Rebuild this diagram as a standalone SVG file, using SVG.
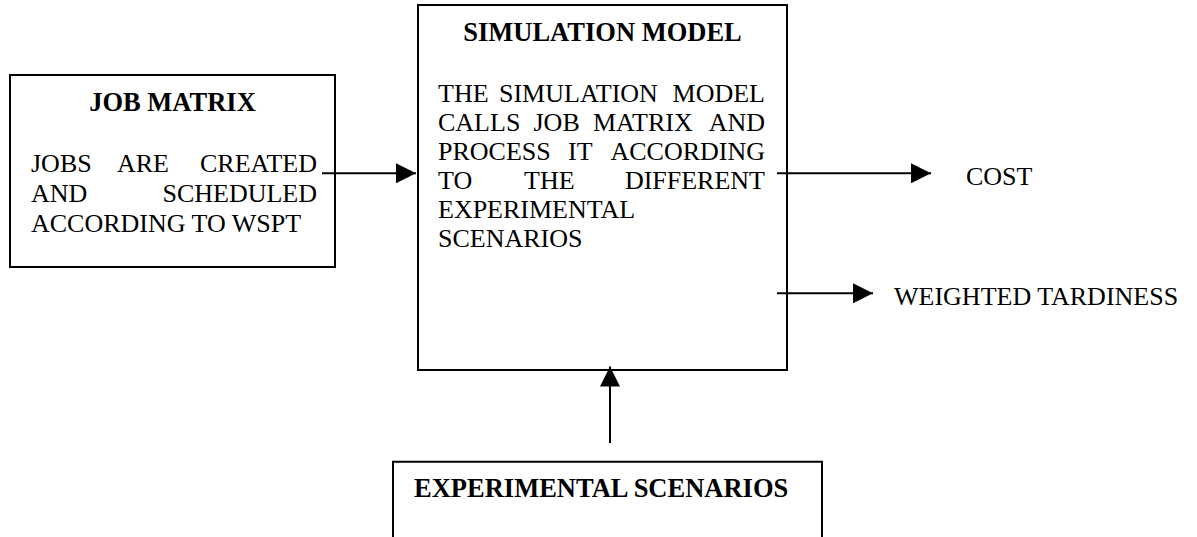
<svg xmlns="http://www.w3.org/2000/svg" width="1197" height="537" viewBox="0 0 1197 537">
<style>
.box{fill:#fff;stroke:#000;stroke-width:2}
.conn{stroke:#000;stroke-width:2;fill:none}
.tx{font-family:'Liberation Serif','Times New Roman',serif;font-size:26px;fill:#000}
.bd{font-weight:bold;font-size:26.5px}
.en{text-anchor:end}
.mid{text-anchor:middle}
</style>
<defs>
<marker id="ah" markerUnits="userSpaceOnUse" markerWidth="20" markerHeight="20" refX="20" refY="10" orient="auto">
<path d="M0,0 L20,10 L0,20 Z" fill="#000"/>
</marker>
</defs>
<rect width="1197" height="537" fill="#fff"/>
<g id="job-matrix">
<rect class="box" x="10" y="75" width="325" height="192"/>
<text class="tx bd mid" x="172.5" y="111">JOB MATRIX</text>
<text class="tx" x="31" y="172">JOBS</text>
<text class="tx" x="117" y="172">ARE</text>
<text class="tx en" x="317" y="172">CREATED</text>
<text class="tx" x="31" y="202">AND</text>
<text class="tx en" x="317" y="202">SCHEDULED</text>
<text class="tx" x="31" y="232">ACCORDING TO WSPT</text>
</g>
<g id="simulation-model">
<rect class="box" x="418" y="5" width="369" height="365"/>
<text class="tx bd mid" x="602.5" y="40.5">SIMULATION MODEL</text>
<text class="tx" x="438" y="101.5">THE</text>
<text class="tx" x="499" y="101.5">SIMULATION</text>
<text class="tx en" x="765" y="101.5">MODEL</text>
<text class="tx" x="438" y="130.5">CALLS</text>
<text class="tx" x="533.5" y="130.5">JOB</text>
<text class="tx" x="593" y="130.5">MATRIX</text>
<text class="tx en" x="765" y="130.5">AND</text>
<text class="tx" x="438" y="159.5">PROCESS</text>
<text class="tx" x="568" y="159.5">IT</text>
<text class="tx en" x="765" y="159.5">ACCORDING</text>
<text class="tx" x="438" y="188.5">TO</text>
<text class="tx" x="524" y="188.5">THE</text>
<text class="tx en" x="765" y="188.5">DIFFERENT</text>
<text class="tx" x="438" y="217.5">EXPERIMENTAL</text>
<text class="tx" x="438" y="246.5">SCENARIOS</text>
</g>
<g id="experimental-scenarios">
<path class="conn" d="M393,537 V461.7 H822 V537"/>
<text class="tx bd" x="414" y="496.7">EXPERIMENTAL SCENARIOS</text>
</g>
<g id="cost">
<text class="tx" x="966" y="185">COST</text>
</g>
<g id="weighted-tardiness">
<text class="tx" x="894" y="305">WEIGHTED TARDINESS</text>
</g>
<g id="connectors">
<line class="conn" x1="322" y1="173.3" x2="416" y2="173.3" marker-end="url(#ah)"/>
<line class="conn" x1="777" y1="173.3" x2="931" y2="173.3" marker-end="url(#ah)"/>
<line class="conn" x1="777" y1="293.3" x2="873" y2="293.3" marker-end="url(#ah)"/>
<line class="conn" x1="610" y1="443" x2="610" y2="366.5" marker-end="url(#ah)"/>
</g>
</svg>
